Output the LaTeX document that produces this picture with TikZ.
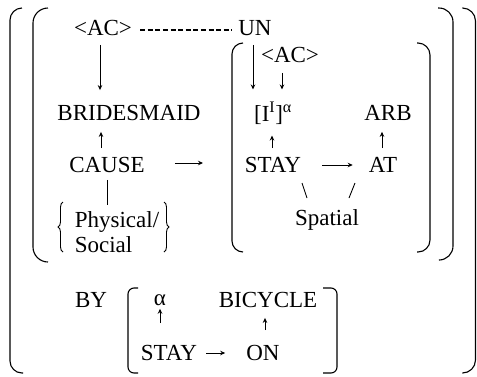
\documentclass[tikz,border=0pt]{standalone}
\usepackage{fontspec}
\setmainfont{Liberation Serif}
\usetikzlibrary{arrows.meta, positioning, decorations.pathreplacing}

\tikzset{
  lbl/.style={inner sep=1pt, font=\fontsize{23}{25}\selectfont},
  arr/.style={-{Stealth[length=5pt,width=4.5pt]}, line width=0.9pt},
  link/.style={line width=0.9pt},
  brak/.style={line width=1.1pt},
  dashlink/.style={line width=1.7pt, dash pattern=on 5pt off 2.6pt},
}

\begin{document}
\begin{tikzpicture}[x=1pt,y=-1pt]
  \useasboundingbox (0,0) rectangle (477,376);

  % outer brackets
  \draw[brak, rounded corners=12pt] (22,8) -- (10,8) -- (10,373) -- (23,373);
  \draw[brak, rounded corners=13pt] (463,8) -- (475.5,8) -- (475.5,373) -- (463,373);
  \draw[brak, rounded corners=15pt] (48,8) -- (33,8) -- (33,262) -- (48,262);
  \draw[brak, rounded corners=14pt] (438,8) -- (453,8) -- (453,260) -- (440,260);
  \draw[brak, rounded corners=11pt] (243,43) -- (232,43) -- (232,252) -- (243,252);
  \draw[brak, rounded corners=12pt] (417,43) -- (430,43) -- (430,252) -- (417,252);
  \draw[brak, rounded corners=6pt] (138,288) -- (128,288) -- (128,373) -- (138,373);
  \draw[brak, rounded corners=6pt] (323,288) -- (337,288) -- (337,373) -- (323,373);

  % top row
  \node[lbl] (ac) at (103,28) {<AC>};
  \node[lbl] (un) at (255,28) {UN};
  \draw[dashlink, shorten <=7pt, shorten >=5pt] ([yshift=-2pt]ac.east) -- ([yshift=-2pt]un.west);

  % left part
  \node[lbl] (brides) at (129,113) {BRIDESMAID};
  \node[lbl] (cause) at (107,165) {CAUSE};
  \node[lbl, align=left] (physoc) at (117,232) {Physical/\\Social};
  \coordinate (inner) at (203,163);
  \draw[arr, shorten <=8pt, shorten >=14pt] (ac.south -| 100,0) -- (brides.north -| 100,0);
  \draw[arr, shorten <=8pt, shorten >=10pt] (cause.north -| 101,0) -- (brides.south -| 101,0);
  \draw[arr, shorten <=29pt] (cause.east |- inner) -- (inner);
  \draw[link, shorten <=6pt] (cause.south) -- (cause.south |- 0,205);
  \draw[link, decorate, decoration={brace, amplitude=5pt}] (63,252) -- (63,202);
  \draw[link, decorate, decoration={brace, amplitude=5pt}] (164,202) -- (164,252);

  % right part
  \node[lbl] (ac2) at (290,55) {<AC>};
  \node[lbl] (ii) at (273,113) {[I\textsuperscript{I}]\textsuperscript{α}};
  \node[lbl] (arb) at (388,113) {ARB};
  \node[lbl] (stay) at (273,165) {STAY};
  \node[lbl] (at) at (383,165) {AT};
  \node[lbl] (spatial) at (327,220) {Spatial};
  \draw[arr, shorten <=8pt, shorten >=11pt] (un.south -| 253,0) -- (ii.north -| 253,0);
  \draw[arr, shorten <=9pt, shorten >=11pt] (ac2.south -| 282,0) -- (ii.north -| 282,0);
  \draw[arr, shorten <=8pt, shorten >=10pt] (stay.north -| 272,0) -- (ii.south -| 272,0);
  \draw[arr, shorten <=8pt, shorten >=10pt] (at.north -| 382,0) -- (arb.south -| 382,0);
  \draw[arr, shorten <=20pt, shorten >=15pt] (stay.east) -- (at.west);
  \draw[link] (302,183) -- (307,198);
  \draw[link] (355,183) -- (349,198);

  % bottom row
  \node[lbl] (by) at (91,300) {BY};
  \node[lbl] (alpha) at (160,300) {α};
  \node[lbl] (bicycle) at (268,300) {BICYCLE};
  \node[lbl] (stay2) at (169,353) {STAY};
  \node[lbl] (on) at (263,353) {ON};
  \draw[arr, shorten <=21pt, shorten >=2pt] (stay2.north -| alpha) -- (alpha.south);
  \draw[arr, shorten <=14pt, shorten >=9pt] (on.north -| 265,0) -- (bicycle.south -| 265,0);
  \draw[arr, shorten <=8pt, shorten >=20pt] (stay2.east) -- (on.west);
\end{tikzpicture}
\end{document}
